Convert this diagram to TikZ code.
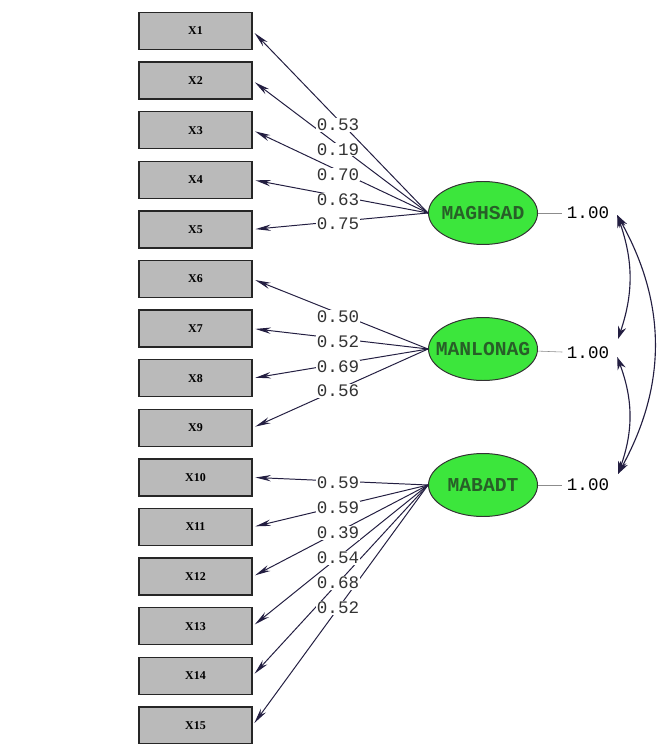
\documentclass[tikz,border=0pt]{standalone}
\usepackage{fontspec}
\newfontfamily\lismono{Liberation Mono}
\newfontfamily\lisserif{Liberation Serif}
\usetikzlibrary{positioning, arrows.meta, shapes.geometric}
\definecolor{latgreen}{RGB}{60,230,60}
\definecolor{latname}{RGB}{40,95,40}
\definecolor{pathnavy}{RGB}{35,30,65}
\tikzset{
  indicator/.style={rectangle, draw=black!85, fill=black!27, line width=0.9pt,
    minimum width=2.825cm, minimum height=0.925cm,
    font=\lisserif\fontsize{8.5}{8.5}\selectfont\bfseries},
  latent/.style={ellipse, draw=black!80, fill=latgreen, line width=0.7pt,
    minimum width=2.725cm, minimum height=1.575cm, inner sep=0pt,
    text=latname, font=\lismono\fontsize{14}{14}\selectfont\bfseries},
  loading/.style={fill=white, inner sep=0.5pt,
    text=black!80, font=\lismono\fontsize{12.5}{12.5}\selectfont},
  variance/.style={inner sep=1pt, font=\lismono\fontsize{12.5}{12.5}\selectfont}
}

\begin{document}
\begin{tikzpicture}[->,>={Stealth[length=11pt,width=4.5pt]},shorten >=2pt,node distance=1.24cm]
\useasboundingbox[fill=white] (0,0) rectangle (16.675,-18.6);

% observed variables
\node[indicator] (x1) at (4.8875,-0.775) {X1};
\node[indicator] (x2) [below of=x1] {X2};
\node[indicator] (x3) [below of=x2] {X3};
\node[indicator] (x4) [below of=x3] {X4};
\node[indicator] (x5) [below of=x4] {X5};
\node[indicator] (x6) [below of=x5] {X6};
\node[indicator] (x7) [below of=x6] {X7};
\node[indicator] (x8) [below of=x7] {X8};
\node[indicator] (x9) [below of=x8] {X9};
\node[indicator] (x10) [below of=x9] {X10};
\node[indicator] (x11) [below of=x10] {X11};
\node[indicator] (x12) [below of=x11] {X12};
\node[indicator] (x13) [below of=x12] {X13};
\node[indicator] (x14) [below of=x13] {X14};
\node[indicator] (x15) [below of=x14] {X15};

% latent variables
\node[latent] (f1) at (12.075,-5.325) {\makebox[0pt]{MAGHSAD}};
\node[latent] (f2) at (12.075,-8.725) {\makebox[0pt]{MANLONAG}};
\node[latent] (f3) at (12.075,-12.125) {\makebox[0pt]{MABADT}};

\node[variance] (v1) at (14.7,-5.325) {1.00};
\node[variance] (v2) at (14.7,-8.825) {1.00};
\node[variance] (v3) at (14.7,-12.125) {1.00};

\path[-,black!45,line width=0.4pt]
      (f1) edge (v1)
      (f2) edge (v2)
      (f3) edge (v3);

\path[pathnavy,line width=0.7pt]
      (f1.west) edge (x1.east)
      (f1.west) edge (x2.east)
      (f1.west) edge (x3.east)
      (f1.west) edge (x4.east)
      (f1.west) edge (x5.east)
      (f2.west) edge (x6.east)
      (f2.west) edge (x7.east)
      (f2.west) edge (x8.east)
      (f2.west) edge (x9.east)
      (f3.west) edge (x10.east)
      (f3.west) edge (x11.east)
      (f3.west) edge (x12.east)
      (f3.west) edge (x13.east)
      (f3.west) edge (x14.east)
      (f3.west) edge (x15.east);

% loadings
\node[loading] (l1) at (8.45,-3.125) {0.53};
\node[loading] (l2) [below of=l1,node distance=0.62cm] {0.19};
\node[loading] (l3) [below of=l2,node distance=0.62cm] {0.70};
\node[loading] (l4) [below of=l3,node distance=0.62cm] {0.63};
\node[loading] (l5) [below of=l4,node distance=0.62cm] {0.75};
\node[loading] (l6) at (8.45,-7.925) {0.50};
\node[loading] (l7) [below of=l6,node distance=0.617cm] {0.52};
\node[loading] (l8) [below of=l7,node distance=0.617cm] {0.69};
\node[loading] (l9) [below of=l8,node distance=0.617cm] {0.56};
\node[loading] (l10) at (8.45,-12.075) {0.59};
\node[loading] (l11) [below of=l10,node distance=0.625cm] {0.59};
\node[loading] (l12) [below of=l11,node distance=0.625cm] {0.39};
\node[loading] (l13) [below of=l12,node distance=0.625cm] {0.54};
\node[loading] (l14) [below of=l13,node distance=0.625cm] {0.68};
\node[loading] (l15) [below of=l14,node distance=0.625cm] {0.52};

% correlations
\coordinate (c1) at (15.43,-5.375);
\coordinate (c2) at (15.45,-8.475);
\coordinate (c3) at (15.43,-8.925);
\coordinate (c4) at (15.45,-11.85);

\path[{Stealth[length=9pt,width=6pt]}-{Stealth[length=9pt,width=6pt]},pathnavy,line width=0.8pt,shorten >=0pt,shorten <=0pt]
      (c1) edge [bend left=19] (c2)
      (c3) edge [bend left=20] (c4)
      (c1) edge [bend left=29] (c4);

\end{tikzpicture}
\end{document}
